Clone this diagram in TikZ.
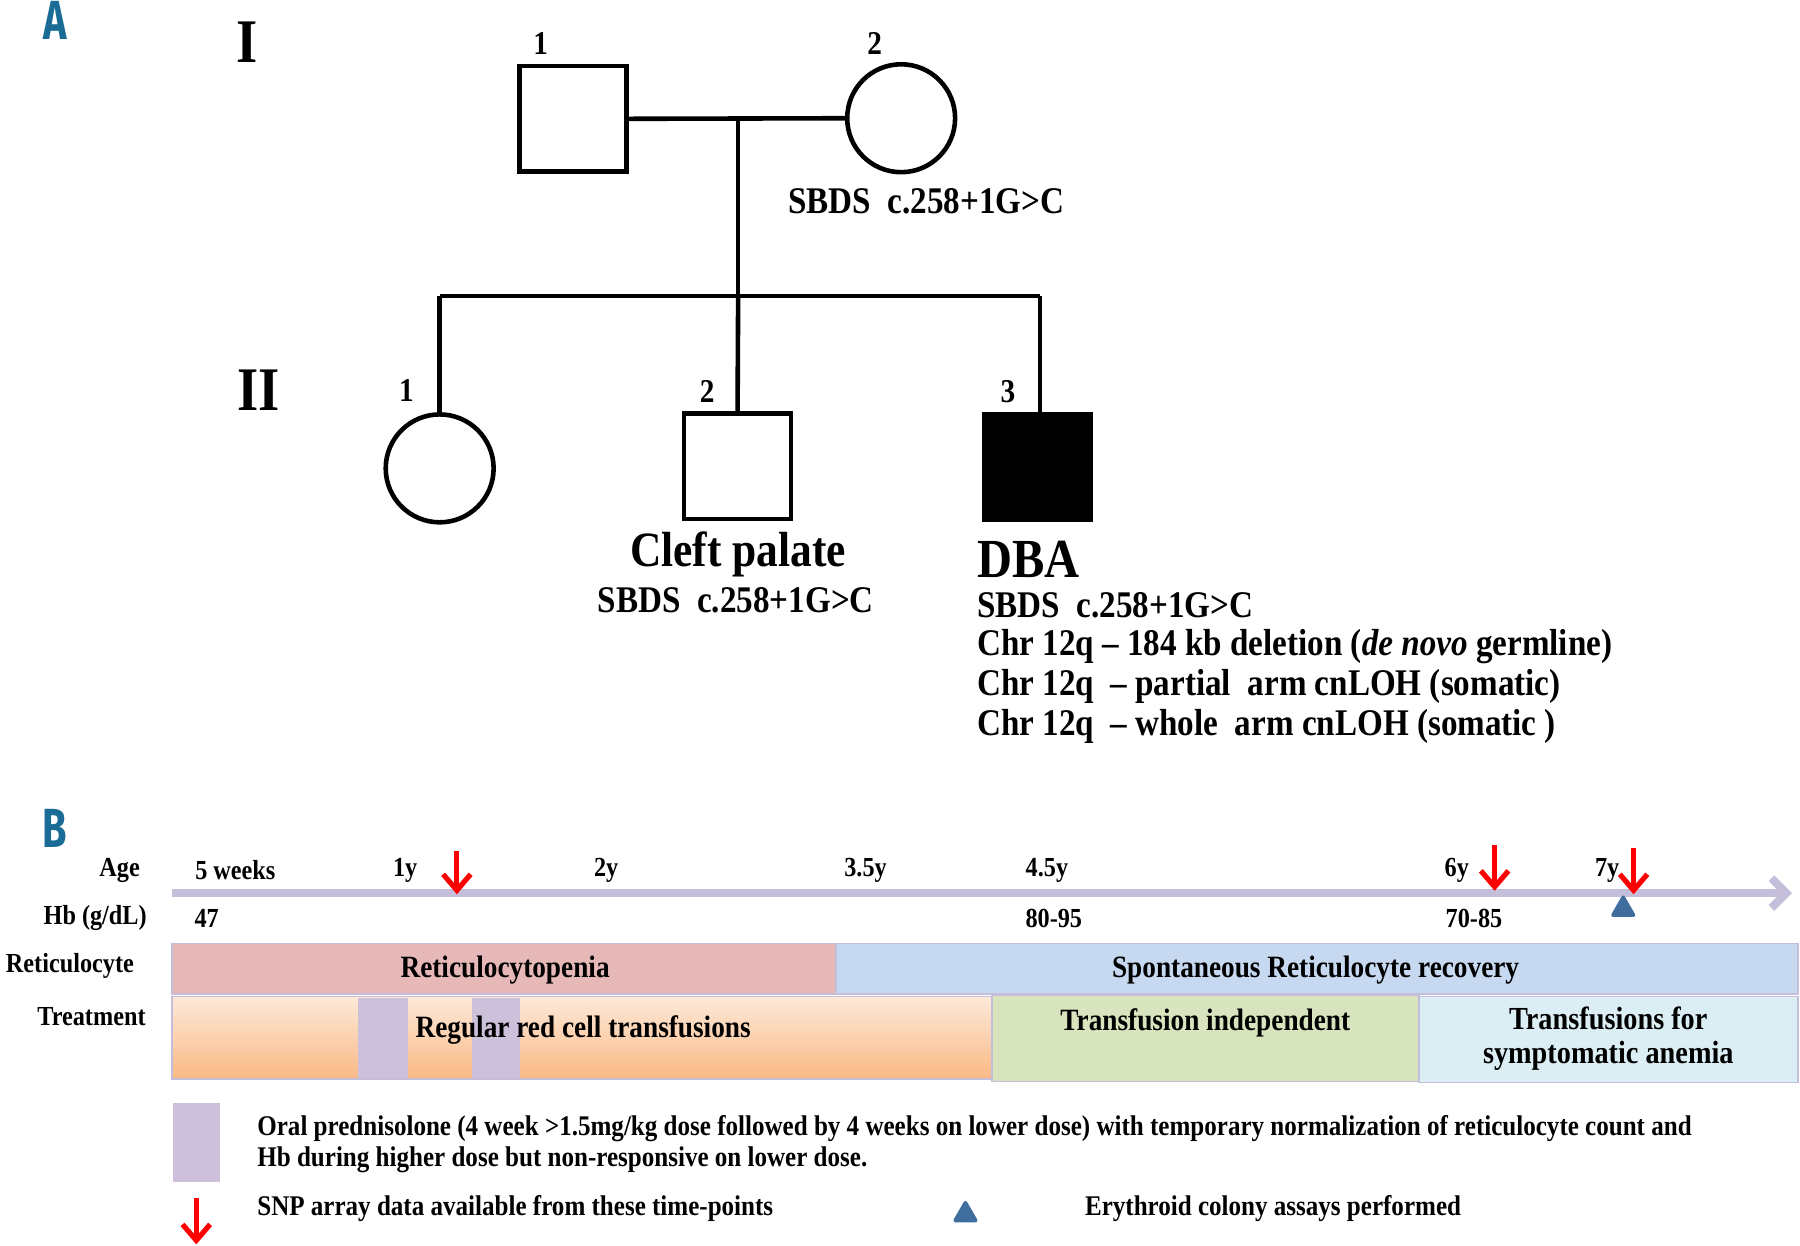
\documentclass[tikz,border=0pt]{standalone}
\usepackage{fontspec}
\setmainfont{Liberation Serif}[FakeStretch=0.88]
\newfontfamily\labfont{Fira Sans}[FakeStretch=0.72]
\usetikzlibrary{arrows.meta,shapes.geometric,positioning}
\definecolor{pinkb}{HTML}{E6B9B8}
\definecolor{blueb}{HTML}{C6D9F1}
\definecolor{orTop}{HTML}{FDE9D9}
\definecolor{orBot}{HTML}{FAB985}
\definecolor{lav}{HTML}{CCC0DA}
\definecolor{greenb}{HTML}{D7E4BD}
\definecolor{lblue}{HTML}{DBEEF4}
\definecolor{axisc}{HTML}{C5BEDB}
\definecolor{tri}{HTML}{3F6E9E}
\definecolor{panel}{HTML}{1A6C97}
\begin{document}
\begin{tikzpicture}[x=1pt,y=-1pt,
  ped/.style={draw=black,line width=4pt},
  male/.style={ped,rectangle,minimum width=93pt,minimum height=92pt,inner sep=0pt},
  female/.style={ped,circle,minimum size=94pt,inner sep=0pt},
  link/.style={line width=4pt,black},
  num/.style={font=\fontsize{29}{32}\selectfont\bfseries,inner sep=0pt},
  gen/.style={font=\fontsize{54}{58}\selectfont\bfseries,inner sep=0pt},
  gtxt/.style={font=\fontsize{32.8}{36}\selectfont\bfseries,inner sep=0pt,anchor=west},
  panlab/.style={font=\fontsize{48}{50}\selectfont\bfseries\labfont,text=panel,inner sep=0pt},
  blab/.style={font=\fontsize{24}{26}\selectfont\bfseries,inner sep=0pt},
  band/.style={draw=axisc,line width=1.5pt},
  bandtxt/.style={font=\fontsize{27}{31}\selectfont\bfseries,inner sep=0pt,align=center},
  legtxt/.style={font=\fontsize{24.8}{27}\selectfont\bfseries,inner sep=0pt,anchor=west},
  redarrow/.style={draw=red,line width=4.5pt,-{Straight Barb[length=14pt,width=24pt]}},
  tmark/.style={regular polygon,regular polygon sides=3,fill=tri,minimum size=27pt,inner sep=0pt,rounded corners=3pt}
]
\useasboundingbox (0,0) rectangle (1568,1085.4);
\fill[white] (0,0) rectangle (1568,1085.4);

% ---------------- Panel A ----------------
\node[panlab] (labA) at (48,18) {A};
\node[gen] (genI) at (215,37) {I};
\node[gen] (genII) at (225,340) {II};

\node[male] (I1) at (499,103.5) {};
\node[female] (I2) at (785,103) {};
\node[num] (nI1) at (471,38) {1};
\node[num] (nI2) at (762,38) {2};

\coordinate (mid) at (643,103);
\coordinate (sib) at (643,258);
\coordinate (sibL) at (383,258);
\coordinate (sibR) at (906,258);

\node[female] (II1) at (383,408) {};
\node[male] (II2) at (642.5,406) {};
\node[male,fill=black] (II3) at (903.5,406.5) {};
\node[num] (nII1) at (354,340) {1};
\node[num] (nII2) at (616,341) {2};
\node[num] (nII3) at (878,341) {3};

\draw[link] (I1.east) -- (I2.west);
\draw[link] (mid) -- (sib);
\draw[link] (sibL) -- (sibR);
\draw[link] (sibL) -- (II1.north);
\draw[link] (sib) -- (II2.north);
\draw[link] (sibR) -- (sibR |- II3.north);

\node[gtxt,anchor=center] (t1) at (807,175) {SBDS\ \ c.258+1G>C};
\node[font=\fontsize{43}{46}\selectfont\bfseries,inner sep=0pt] (cleft) at (643,483) {Cleft palate};
\node[gtxt,anchor=center] (t2) at (641,523) {SBDS\ \ c.258+1G>C};
\node[font=\fontsize{48}{50}\selectfont\bfseries,inner sep=0pt,anchor=west] (dba) at (851,487) {DBA};
\node[gtxt] (d1) at (851,527) {SBDS\ \ c.258+1G>C};
\node[gtxt] (d2) at (851,563) {Chr 12q -- 184 kb deletion (\textit{de novo} germline)};
\node[gtxt] (d3) at (851,598) {Chr 12q\ \ -- partial\ \ arm cnLOH (somatic)};
\node[gtxt] (d4) at (851,633) {Chr 12q\ \ -- whole\ \ arm cnLOH (somatic\ )};

% ---------------- Panel B ----------------
\node[panlab] (labB) at (48,722) {B};

% bands
\draw[band,fill=pinkb] (150,822) rectangle (728,866);
\draw[band,fill=blueb] (728,822) rectangle (1566,866);
\draw[band,top color=orTop,bottom color=orBot] (150,868) rectangle (864,940);
\fill[lav] (312,869) rectangle (355,939);
\fill[lav] (411,869) rectangle (453,939);
\draw[band,fill=greenb] (864,867) rectangle (1236,942);
\draw[band,fill=lblue] (1236,868) rectangle (1566,943);

\node[bandtxt] (reti) at (440,845) {Reticulocytopenia};
\node[bandtxt] (spont) at (1146,845) {Spontaneous Reticulocyte recovery};
\node[bandtxt] (regular) at (508,897) {Regular red cell transfusions};
\node[bandtxt] (indep) at (1050,891) {Transfusion independent};
\node[bandtxt,font=\fontsize{28}{30}\selectfont\bfseries] (symp) at (1401,905) {Transfusions for\\symptomatic anemia};

% axis
\coordinate (ax0) at (150,778);
\coordinate (ax1) at (1561,778);
\draw[axisc,line width=7pt,-{Straight Barb[length=13pt,width=26pt]}] (ax0) -- (ax1);

\node[blab,anchor=east] (age) at (122,758) {Age};
\node[blab,anchor=east] (hb) at (128,800) {Hb (g/dL)};
\node[blab,anchor=west] (retl) at (5,841) {Reticulocyte};
\node[blab,anchor=east] (trl) at (127,886) {Treatment};

\node[blab] (a1) at (205,758) {5 weeks};
\node[blab] (a2) at (353,758) {1y};
\node[blab] (a3) at (528,758) {2y};
\node[blab] (a4) at (754,758) {3.5y};
\node[blab] (a5) at (912,758) {4.5y};
\node[blab] (a6) at (1269,758) {6y};
\node[blab] (a7) at (1400,758) {7y};

\node[blab] (h1) at (180,800) {47};
\node[blab] (h2) at (918,800) {80-95};
\node[blab] (h3) at (1284,800) {70-85};

\coordinate (r1a) at (398,741); \coordinate (r1b) at (398,779);
\coordinate (r2a) at (1302,736); \coordinate (r2b) at (1302,776);
\coordinate (r3a) at (1423,739); \coordinate (r3b) at (1423,779);
\draw[redarrow] (r1a) -- (r1b);
\draw[redarrow] (r2a) -- (r2b);
\draw[redarrow] (r3a) -- (r3b);

\node[tmark] (tm1) at (1414,792) {};

% legend
\fill[lav] (151,961) rectangle (192,1030);
\node[legtxt] (l1) at (224,983) {Oral prednisolone (4 week >1.5mg/kg dose followed by 4 weeks on lower dose) with temporary normalization of reticulocyte count and};
\node[legtxt] (l2) at (224,1010) {Hb during higher dose but non-responsive on lower dose.};
\coordinate (lra) at (171,1044); \coordinate (lrb) at (171,1084);
\draw[redarrow] (lra) -- (lrb);
\node[legtxt] (l3) at (224,1053) {SNP array data available from these time-points};
\node[tmark] (tm2) at (841,1058) {};
\node[legtxt] (l4) at (945,1053) {Erythroid colony assays performed};
\end{tikzpicture}
\end{document}
